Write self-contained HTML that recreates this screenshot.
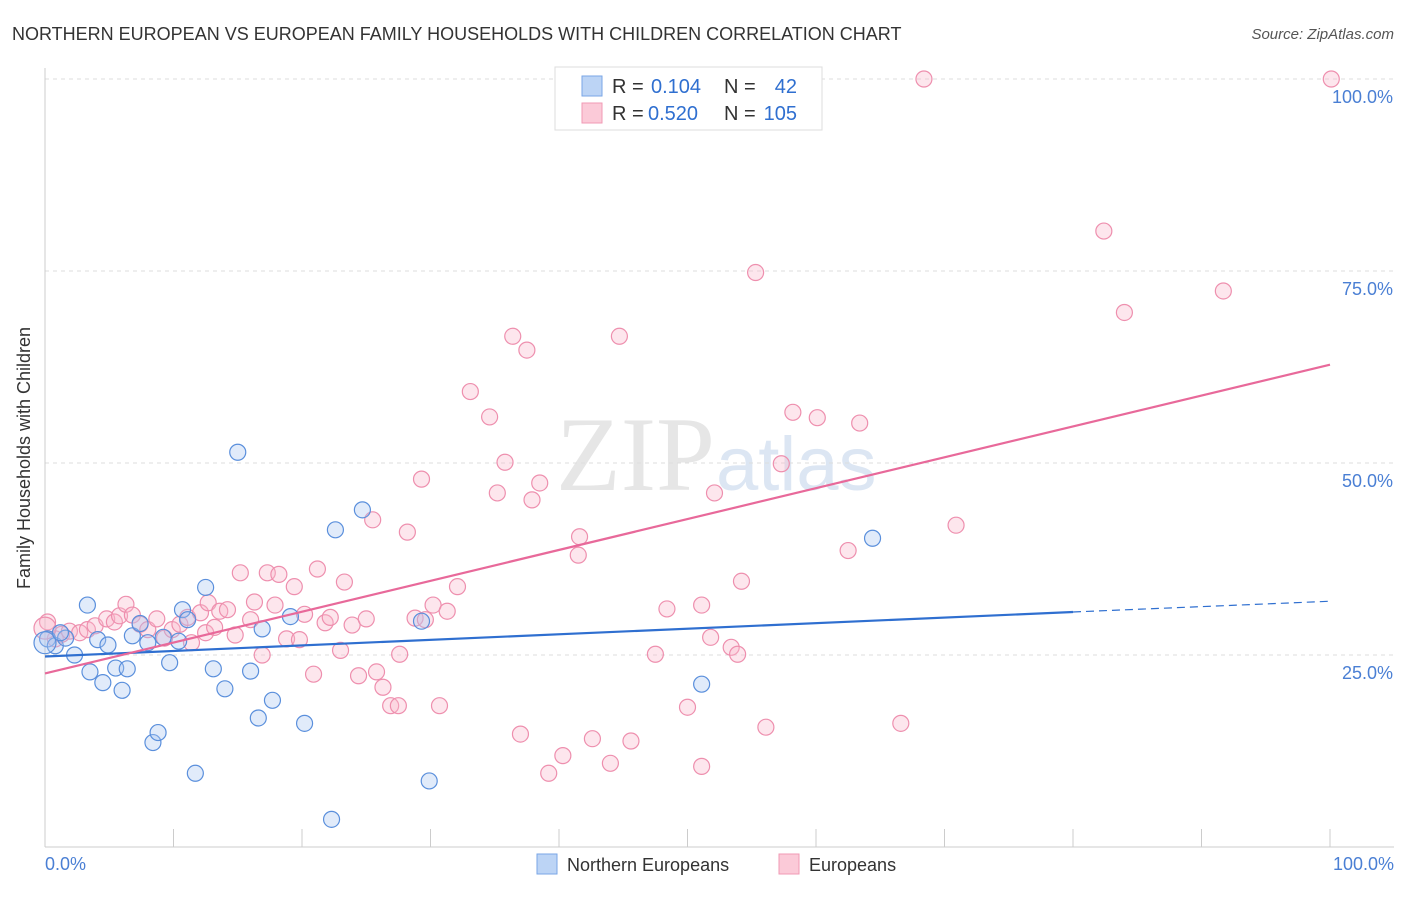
<!DOCTYPE html>
<html><head><meta charset="utf-8"><style>
body{margin:0;background:#fff;font-family:"Liberation Sans",sans-serif}
</style></head><body>
<svg width="1406" height="892" xmlns="http://www.w3.org/2000/svg">
<text x="12" y="40" font-size="18" fill="#333">NORTHERN EUROPEAN VS EUROPEAN FAMILY HOUSEHOLDS WITH CHILDREN CORRELATION CHART</text>
<text x="1394" y="39" font-size="15" fill="#555" font-style="italic" text-anchor="end">Source: ZipAtlas.com</text>
<text x="715" y="490" font-size="106" fill="#e6e6e6" text-anchor="end" font-family="Liberation Serif">ZIP</text>
<text x="716" y="490" font-size="76" fill="#dce6f3">atlas</text>
<g id="grid"></g>
<line x1="45" y1="68" x2="45" y2="847" stroke="#ccc"/>
<line x1="45" y1="847" x2="1394" y2="847" stroke="#ccc"/>
<g id="xt"></g>
<text x="30" y="458" font-size="18" fill="#333" text-anchor="middle" transform="rotate(-90 30 458)">Family Households with Children</text>
<text x="45" y="870" font-size="18" fill="#4a7fd4">0.0%</text>
<text x="1394" y="870" font-size="18" fill="#4a7fd4" text-anchor="end">100.0%</text>
<g id="pts"></g>
<g id="lines"></g>
<g>
<rect x="555" y="67" width="267" height="63" fill="#fff" stroke="#ddd"/>
<rect x="582" y="76" width="20" height="20" fill="#bcd4f5" stroke="#7aa6e6"/>
<rect x="582" y="103" width="20" height="20" fill="#fbcad8" stroke="#f09ab4"/>
<text x="612" y="93" font-size="20" fill="#333">R =</text>
<text x="651" y="93" font-size="20" fill="#2f6fd0">0.104</text>
<text x="724" y="93" font-size="20" fill="#333">N =</text>
<text x="797" y="93" font-size="20" fill="#2f6fd0" text-anchor="end">42</text>
<text x="612" y="120" font-size="20" fill="#333">R =</text>
<text x="648" y="120" font-size="20" fill="#2f6fd0">0.520</text>
<text x="724" y="120" font-size="20" fill="#333">N =</text>
<text x="797" y="120" font-size="20" fill="#2f6fd0" text-anchor="end">105</text>
</g>
<g>
<rect x="537" y="854" width="20" height="20" fill="#bcd4f5" stroke="#7aa6e6"/>
<text x="567" y="871" font-size="18" fill="#333">Northern Europeans</text>
<rect x="779" y="854" width="20" height="20" fill="#fbcad8" stroke="#f09ab4"/>
<text x="809" y="871" font-size="18" fill="#333">Europeans</text>
</g>
</svg>
<script>
const yTicks=[25,50,75,100];
const yTickLabels=["25.0%","50.0%","75.0%","100.0%"];
const blueX=[0.2,0.8,1.6,2.3,3.3,3.5,4.1,4.5,4.9,5.5,6.0,6.4,6.8,7.4,8.0,8.4,8.8,9.2,9.7,10.4,10.7,11.1,11.7,12.5,13.1,14.0,15.0,16.0,16.6,16.9,17.7,19.1,20.2,22.3,22.6,24.7,29.3,29.9,51.1,64.4,0,1.2];
const blueY=[27.1,26.2,27.2,25.0,31.5,22.8,27.0,21.4,26.3,23.3,20.4,23.2,27.5,29.1,26.6,13.6,14.9,27.3,24.0,26.8,30.9,29.6,9.6,33.8,23.2,20.6,51.4,22.9,16.8,28.4,19.1,30.0,16.1,3.6,41.3,43.9,29.4,8.6,21.2,40.2,26.6,27.9];
const pinkX=[0.2,0.8,1.3,1.9,2.7,3.3,3.9,4.8,5.4,5.8,6.3,6.8,7.4,8.0,8.7,9.3,9.9,10.5,11.1,11.4,12.1,12.5,12.7,13.2,13.6,14.2,14.8,15.2,16.0,16.3,16.9,17.3,17.9,18.2,18.8,19.4,19.8,20.2,20.9,21.2,21.8,22.2,23.0,23.3,23.9,24.4,25.0,25.5,25.8,26.3,26.9,27.5,27.6,28.2,28.8,29.3,29.6,30.2,30.7,31.3,32.1,33.1,34.6,35.2,35.8,36.4,37.0,37.5,37.9,38.5,39.2,40.3,41.5,41.6,42.6,44.0,44.7,45.6,47.5,48.4,50.0,51.1,51.1,51.8,52.1,53.4,53.9,54.2,55.3,56.1,57.3,58.2,60.1,62.5,63.4,66.6,68.4,70.9,82.4,84.0,91.7,100.1,0];
const pinkY=[29.3,27.1,27.7,28.1,27.9,28.3,28.8,29.7,29.3,30.1,31.6,30.2,29.0,28.3,29.7,27.2,28.3,29.0,29.9,26.6,30.5,27.9,31.8,28.6,30.7,30.9,27.6,35.7,29.6,31.9,25.0,35.7,31.5,35.5,27.1,33.9,27.0,30.3,22.5,36.2,29.2,29.9,25.6,34.5,28.9,22.3,29.7,42.6,22.8,20.8,18.4,18.4,25.1,41.0,29.8,47.9,29.6,31.5,18.4,30.7,33.9,59.3,56.0,46.1,50.1,66.5,14.7,64.7,45.2,47.4,9.6,11.9,38.0,40.4,14.1,10.9,66.5,13.8,25.1,31.0,18.2,10.5,31.5,27.3,46.1,26.0,25.1,34.6,74.8,15.6,49.9,56.6,55.9,38.6,55.2,16.1,100,41.9,80.2,69.6,72.4,100,28.5];
const blueLine=[[0,24.8],[80,30.6],[100,32.0]];
const pinkLine=[[0,22.6],[100,62.8]];
const NS="http://www.w3.org/2000/svg";
const sx=v=>45+v*12.85, sy=v=>847-v*7.68;
function mk(t,a,p){const e=document.createElementNS(NS,t);for(const k in a)e.setAttribute(k,a[k]);p.appendChild(e);return e;}
const grid=document.getElementById('grid');
yTicks.forEach((t,i)=>{const l=mk('line',{x1:45,x2:1394,y1:sy(t),y2:sy(t),stroke:'#ddd','stroke-dasharray':'4,4'},grid);


const tx=mk('text',{x:1393,y:sy(t)+24,'font-size':18,fill:'#4a7fd4','text-anchor':'end'},grid);tx.textContent=yTickLabels[i];

});
const xt=document.getElementById('xt');
for(let i=1;i<=10;i++){const l=mk('line',{x1:sx(i*10),x2:sx(i*10),y1:829,y2:847,stroke:'#ccc'},xt);

}
const pts=document.getElementById('pts');
function dots(X,Y,f,s,name){X.forEach((x,i)=>{const c=mk('circle',{cx:sx(x),cy:sy(Y[i]),r:(x===0?11:8),fill:f,'fill-opacity':0.35,stroke:s,'stroke-width':1.2},pts);

});}
dots(pinkX,pinkY,'#f9b8cb','#ee8fae','european-point');
dots(blueX,blueY,'#a9c6f0','#5a8fdc','northern-european-point');
const lg=document.getElementById('lines');
const b1=mk('line',{x1:sx(blueLine[0][0]),y1:sy(blueLine[0][1]),x2:sx(blueLine[1][0]),y2:sy(blueLine[1][1]),stroke:'#2f6fd0','stroke-width':2.2},lg);


const b2=mk('line',{x1:sx(blueLine[1][0]),y1:sy(blueLine[1][1]),x2:sx(blueLine[2][0]),y2:sy(blueLine[2][1]),stroke:'#2f6fd0','stroke-width':1.2,'stroke-dasharray':'8,5'},lg);


const p1=mk('line',{x1:sx(pinkLine[0][0]),y1:sy(pinkLine[0][1]),x2:sx(pinkLine[1][0]),y2:sy(pinkLine[1][1]),stroke:'#e8699a','stroke-width':2.2},lg);


</script>
</body></html>
